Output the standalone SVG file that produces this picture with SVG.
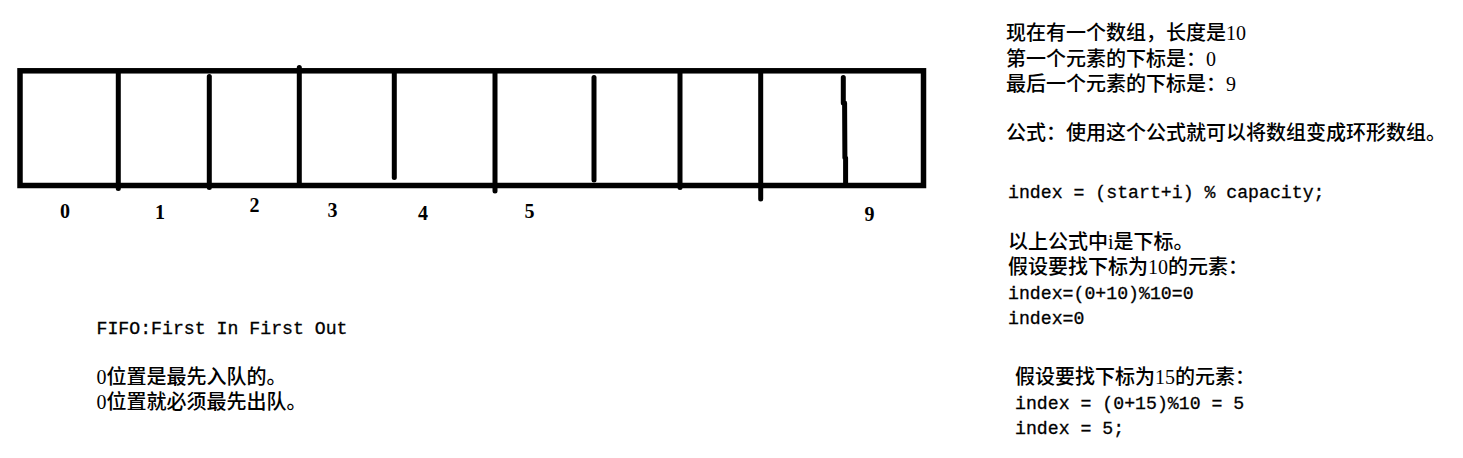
<svg xmlns="http://www.w3.org/2000/svg" width="1463" height="458" viewBox="0 0 1463 458">
<style>
  .frame{fill:none;stroke:#000;stroke-width:5.5}
  .div{fill:none;stroke:#000;stroke-width:5;stroke-linecap:round;stroke-linejoin:round}
  .idx{font-family:"Liberation Serif",serif;font-size:20px;font-weight:bold;fill:#000;text-anchor:middle}
  .cn{font-family:"Liberation Serif","Noto Sans CJK SC",serif;font-size:20px;font-weight:500;fill:#000}
  .code{font-family:"Liberation Mono",monospace;font-size:18.2px;fill:#000;stroke:#000;stroke-width:0.3}
</style>
<rect width="1463" height="458" fill="#fff"/>
<g id="array">
  <rect class="frame" x="20" y="70.8" width="903.5" height="114.7"/>
  <line class="div" x1="118.3" y1="72" x2="118.3" y2="188.5"/>
  <line class="div" x1="209.3" y1="76.5" x2="209.3" y2="187.5"/>
  <line class="div" x1="299.3" y1="67.5" x2="299.3" y2="185"/>
  <line class="div" x1="394.3" y1="72" x2="394.3" y2="177.5"/>
  <line class="div" x1="495" y1="73" x2="495" y2="191"/>
  <line class="div" x1="594" y1="77.5" x2="594" y2="180"/>
  <line class="div" x1="680" y1="73" x2="680" y2="187.5"/>
  <line class="div" x1="760.7" y1="72" x2="760.7" y2="199"/>
  <path class="div" d="M843.3,77.5 L843.3,103 L844.6,103 L844.9,158 L845.6,158 L845.6,185"/>
</g>
<g id="indices">
  <text class="idx" x="65" y="218">0</text>
  <text class="idx" x="160" y="219">1</text>
  <text class="idx" x="254.5" y="212">2</text>
  <text class="idx" x="332.5" y="217">3</text>
  <text class="idx" x="423" y="220">4</text>
  <text class="idx" x="529.5" y="218">5</text>
  <text class="idx" x="869.5" y="221">9</text>
</g>
<g id="notes-top">
  <text class="cn" x="1006" y="40">现在有一个数组，长度是10</text>
  <text class="cn" x="1006" y="65.5">第一个元素的下标是：0</text>
  <text class="cn" x="1006" y="91">最后一个元素的下标是：9</text>
  <text class="cn" x="1006" y="140">公式：使用这个公式就可以将数组变成环形数组。</text>
  <text class="code" x="1008" y="198">index = (start+i) % capacity;</text>
</g>
<g id="notes-example">
  <text class="cn" x="1008" y="249">以上公式中i是下标。</text>
  <text class="cn" x="1008" y="274">假设要找下标为10的元素：</text>
  <text class="code" x="1008" y="299">index=(0+10)%10=0</text>
  <text class="code" x="1008" y="324">index=0</text>
  <text class="cn" x="1015" y="384">假设要找下标为15的元素：</text>
  <text class="code" x="1015" y="409">index = (0+15)%10 = 5</text>
  <text class="code" x="1015" y="434">index = 5;</text>
</g>
<g id="notes-fifo">
  <text class="code" x="96.5" y="334">FIFO:First In First Out</text>
  <text class="cn" x="96.5" y="384">0位置是最先入队的。</text>
  <text class="cn" x="96.5" y="409">0位置就必须最先出队。</text>
</g>
</svg>
